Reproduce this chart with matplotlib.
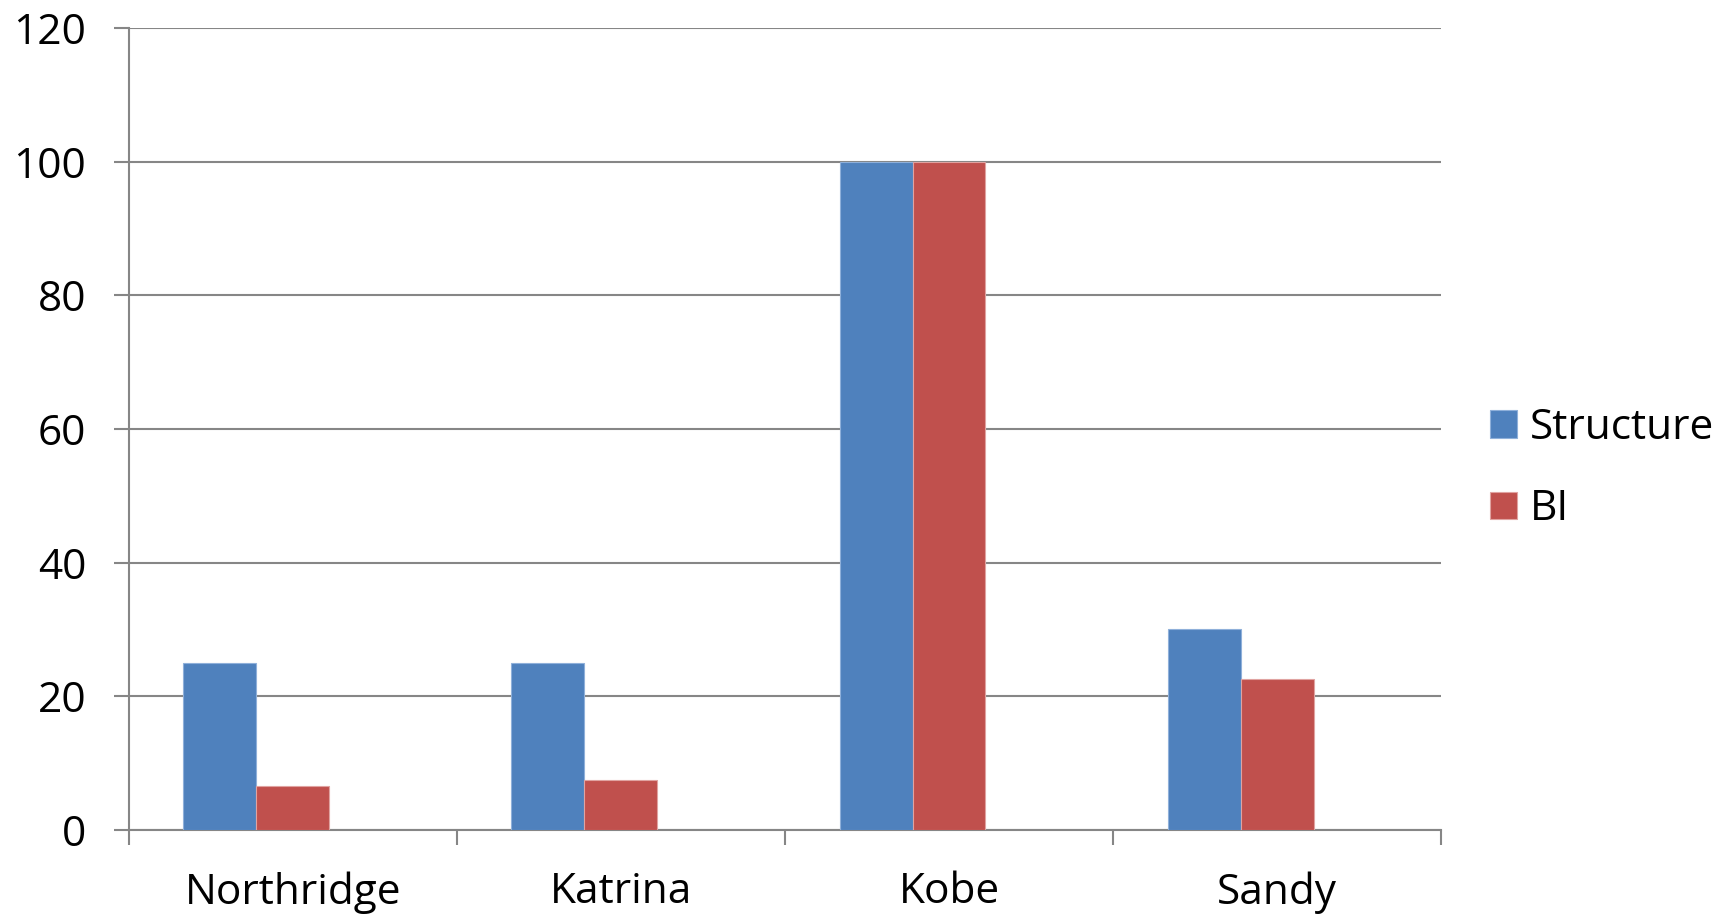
import matplotlib
matplotlib.use("Agg")
import matplotlib.pyplot as plt
import numpy as np

plt.rcParams['font.family'] = ['Open Sans', 'DejaVu Sans']

categories = ["Northridge", "Katrina", "Kobe", "Sandy"]
structure = [25, 25, 100, 30]
bi = [6.5, 7.5, 100, 22.5]
yticks = [0, 20, 40, 60, 80, 100, 120]

blue = "#4F81BD"
red = "#C0504D"
grid_col = "#868686"
fs = 30.5

fig = plt.figure(figsize=(17.26, 9.17), dpi=100)
ax = fig.add_axes([0.0745, 0.0952, 0.7605, 0.8739])

x = np.arange(len(categories))
width = 0.2222
ax.bar(x - width, structure, width, color=blue,
       edgecolor="#8FB0DA", linewidth=0.8, label="Structure", zorder=3)
ax.bar(x, bi, width, color=red,
       edgecolor="#E0A3A1", linewidth=0.8, label="BI", zorder=3)
ax.set_xlim(-0.5, len(categories) - 0.5)
ax.set_ylim(0, 120)
ax.set_yticks(yticks)
ax.yaxis.grid(True, color=grid_col, linewidth=1.5, zorder=0)
ax.set_axisbelow(True)

# category boundaries as major ticks, names on minor ticks at centres
ax.set_xticks(np.arange(-0.5, len(categories)))
ax.set_xticklabels([])
ax.set_xticks(x, minor=True)
ax.set_xticklabels(categories, minor=True)
ax.tick_params(axis='x', which='major', length=11, width=1.5, color=grid_col)
ax.tick_params(axis='x', which='minor', length=0, pad=30, labelsize=fs)
ax.tick_params(axis='y', length=10.5, width=1.5, color=grid_col, pad=20, labelsize=fs)

for side in ("top", "right"):
    ax.spines[side].set_visible(False)
for side in ("left", "bottom"):
    ax.spines[side].set_color(grid_col)
    ax.spines[side].set_linewidth(1.5)

handles, labels = ax.get_legend_handles_labels()
fig.legend(handles, labels, loc="center left", bbox_to_anchor=(0.8633, 0.489),
           frameon=False, fontsize=fs, handlelength=0.63, handleheight=0.63,
           handletextpad=0.3, labelspacing=0.93, borderpad=0, borderaxespad=0)

fig.savefig("out.png", dpi=100)
